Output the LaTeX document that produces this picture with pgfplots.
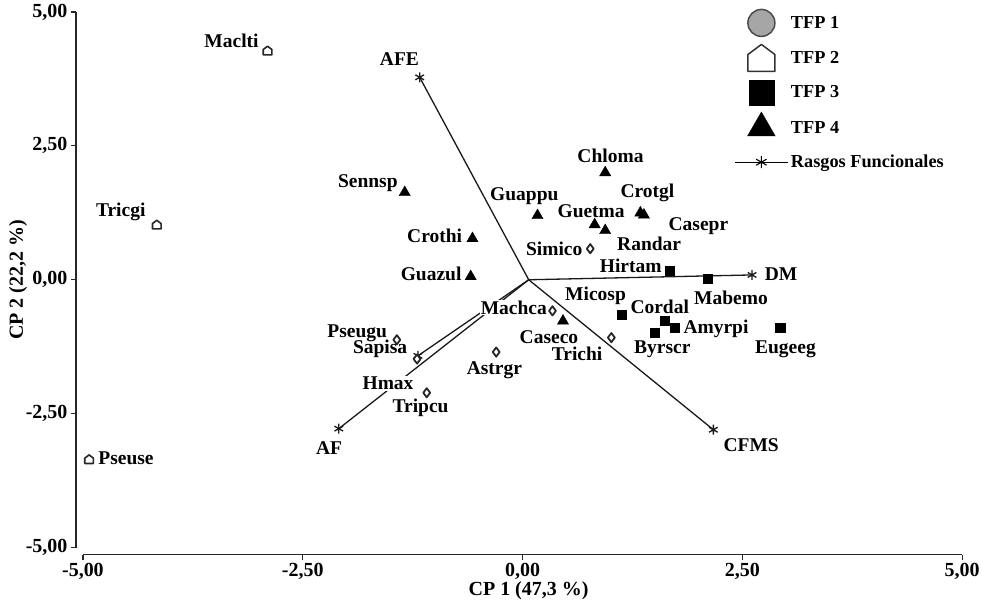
\documentclass[border=0pt]{standalone}
\usepackage{fontspec}
\setmainfont{Liberation Serif}
\usepackage{pgfplots}
\pgfplotsset{compat=1.18}

\newcommand{\lbl}{\fontsize{19.5}{22}\selectfont\bfseries}
\newcommand{\tck}{\fontsize{20}{22}\selectfont\bfseries}
\newcommand{\lgd}{\fontsize{18.3}{20}\selectfont\bfseries}

% casita (TFP 2)
\pgfdeclareplotmark{house}{%
  \pgfpathmoveto{\pgfqpoint{-\pgfplotmarksize}{-\pgfplotmarksize}}%
  \pgfpathlineto{\pgfqpoint{\pgfplotmarksize}{-\pgfplotmarksize}}%
  \pgfpathlineto{\pgfqpoint{\pgfplotmarksize}{0.25\pgfplotmarksize}}%
  \pgfpathlineto{\pgfqpoint{0pt}{\pgfplotmarksize}}%
  \pgfpathlineto{\pgfqpoint{-\pgfplotmarksize}{0.25\pgfplotmarksize}}%
  \pgfpathclose
  \pgfusepathqfillstroke}

\begin{document}
\begin{tikzpicture}
\begin{axis}[
    scale only axis, width=880pt, height=536pt,
    xmin=-5, xmax=5, ymin=-5, ymax=5,
    axis x line*=bottom, axis y line*=left,
    axis x line shift=7pt, axis y line shift=7pt,
    axis line style={-, line width=1.2pt, black!85},
    tick align=outside, major tick length=5pt,
    tick style={line width=1.2pt, black!85},
    xtick={-5,-2.5,0,2.5,5}, ytick={-5,-2.5,0,2.5,5},
    xticklabels={{-5,00},{-2,50},{0,00},{2,50},{5,00}},
    yticklabels={{-5,00},{-2,50},{0,00},{2,50},{5,00}},
    ticklabel style={font=\tck},
    xlabel={CP 1 (47,3 \%)}, ylabel={CP 2 (22,2 \%)},
    label style={font=\tck},
    xlabel style={at={(axis description cs:0.5,0)}, anchor=north,
        yshift=-31pt, xshift=6pt},
    ylabel style={at={(axis description cs:0,0.5)}, anchor=center,
        yshift=65pt},
    clip=false,
    legend cell align=left,
    legend style={at={(axis cs:2.41,5.075)}, anchor=north west, draw=none,
        fill=none, font=\lgd, row sep=5.5pt, inner sep=0pt,
        nodes={inner sep=2pt}},
    legend image code/.code={\path (0pt,-14pt) (0pt,14pt);
        \draw[mark repeat=2,mark phase=2,#1]
        plot coordinates {(0pt,0pt) (26pt,0pt) (53pt,0pt)};},
]
\coordinate (ll) at (axis cs:-5,-5);

% rasgos funcionales (vectores)
\pgfplotsset{vec/.style={black!90, line width=1.3pt, mark=asterisk,
    mark size=5pt, mark indices={2}, forget plot}}
\addplot[vec] coordinates {(0.07,0) (-1.17,3.78)};  % AFE
\addplot[vec] coordinates {(0.07,0) (2.61,0.09)};   % DM
\addplot[vec] coordinates {(0.07,0) (2.17,-2.80)};  % CFMS
\addplot[vec] coordinates {(0.07,0) (-2.09,-2.78)}; % AF
\addplot[vec] coordinates {(0.07,0) (-1.19,-1.42)}; % Hmax

% etiquetas
\node[font=\lbl] at (axis cs:-3.31,4.47) {Maclti};
\node[font=\lbl] at (axis cs:-4.57,1.27) {Tricgi};
\node[font=\lbl] at (axis cs:-4.51,-3.33) {Pseuse};
\node[font=\lbl] at (axis cs:-1.40,4.13) {AFE};
\node[font=\lbl] at (axis cs:-1.76,1.81) {Sennsp};
\node[font=\lbl] at (axis cs:1.00,2.32) {Chloma};
\node[font=\lbl] at (axis cs:0.02,1.57) {Guappu};
\node[font=\lbl] at (axis cs:1.42,1.63) {Crotgl};
\node[font=\lbl] at (axis cs:0.78,1.29) {Guetma};
\node[font=\lbl] at (axis cs:2.00,1.01) {Casepr};
\node[font=\lbl] at (axis cs:1.44,0.67) {Randar};
\node[font=\lbl] at (axis cs:0.36,0.58) {Simico};
\node[font=\lbl] at (axis cs:-1.00,0.82) {Crothi};
\node[font=\lbl] at (axis cs:-1.04,0.11) {Guazul};
\node[font=\lbl] at (axis cs:1.23,0.26) {Hirtam};
\node[font=\lbl] at (axis cs:2.94,0.11) {DM};
\node[font=\lbl] at (axis cs:2.37,-0.34) {Mabemo};
\node[font=\lbl] at (axis cs:0.83,-0.30) {Micosp};
\node[font=\lbl] at (axis cs:1.56,-0.50) {Cordal};
\node[font=\lbl, fill=white, inner sep=1pt] at (axis cs:-0.10,-0.52) {Machca};
\node[font=\lbl] at (axis cs:2.20,-0.92) {Amyrpi};
\node[font=\lbl] at (axis cs:2.99,-1.29) {Eugeeg};
\node[font=\lbl] at (axis cs:1.59,-1.29) {Byrscr};
\node[font=\lbl] at (axis cs:0.30,-1.07) {Caseco};
\node[font=\lbl] at (axis cs:0.62,-1.38) {Trichi};
\node[font=\lbl] at (axis cs:-1.88,-0.99) {Pseugu};
\node[font=\lbl] at (axis cs:-1.62,-1.29) {Sapisa};
\node[font=\lbl] at (axis cs:-0.32,-1.68) {Astrgr};
\node[font=\lbl, fill=white, inner sep=1pt] at (axis cs:-1.53,-1.94) {Hmax};
\node[font=\lbl] at (axis cs:-1.16,-2.39) {Tripcu};
\node[font=\lbl] at (axis cs:-2.20,-3.14) {AF};
\node[font=\lbl] at (axis cs:2.60,-3.08) {CFMS};

% TFP 1
\addplot[only marks, mark=diamond*, mark size=4.6pt, fill=white, draw=black!85,
    line width=1.8pt, line join=round, forget plot] coordinates {
    (0.77,0.58) (0.34,-0.58) (-1.43,-1.12) (-1.20,-1.48)
    (-0.30,-1.35) (1.01,-1.08) (-1.09,-2.11)};
% TFP 2
\addplot[only marks, mark=house, mark size=4.3pt, fill=white, draw=black!85,
    line width=1.6pt, line join=round, forget plot] coordinates {
    (-2.90,4.28) (-4.16,1.03) (-4.93,-3.35)};
% TFP 3
\addplot[only marks, mark=square*, mark size=4.6pt, black, forget plot] coordinates {
    (1.67,0.17) (2.11,0.02) (1.13,-0.65) (1.50,-0.99)
    (1.62,-0.77) (1.73,-0.89) (2.93,-0.89)};
% TFP 4
\addplot[only marks, mark=triangle*, mark size=6.5pt, black, forget plot] coordinates {
    (0.94,2.00) (-1.34,1.63) (0.17,1.20) (0.82,1.03) (0.94,0.92)
    (-0.57,0.77) (-0.59,0.06) (0.46,-0.77) (1.34,1.25) (1.38,1.21)};

% leyenda
\addlegendimage{only marks, mark=*, mark size=13.5pt, fill=black!35,
    draw=black!70, line width=1.5pt}
\addlegendentry{TFP 1}
\addlegendimage{only marks, mark=house, mark size=13.5pt, fill=white,
    draw=black!80, line width=1.5pt, line join=round}
\addlegendentry{TFP 2}
\addlegendimage{only marks, mark=square*, mark size=12.5pt, black}
\addlegendentry{TFP 3}
\addlegendimage{only marks, mark=triangle*, mark size=16pt, black}
\addlegendentry{TFP 4}
\addlegendimage{black, line width=1.1pt, mark=asterisk, mark size=6pt}
\addlegendentry{Rasgos Funcionales}
\end{axis}
\path ([shift={(-83pt,-58pt)}]ll) rectangle ([shift={(900pt,548pt)}]ll);
\end{tikzpicture}
\end{document}
